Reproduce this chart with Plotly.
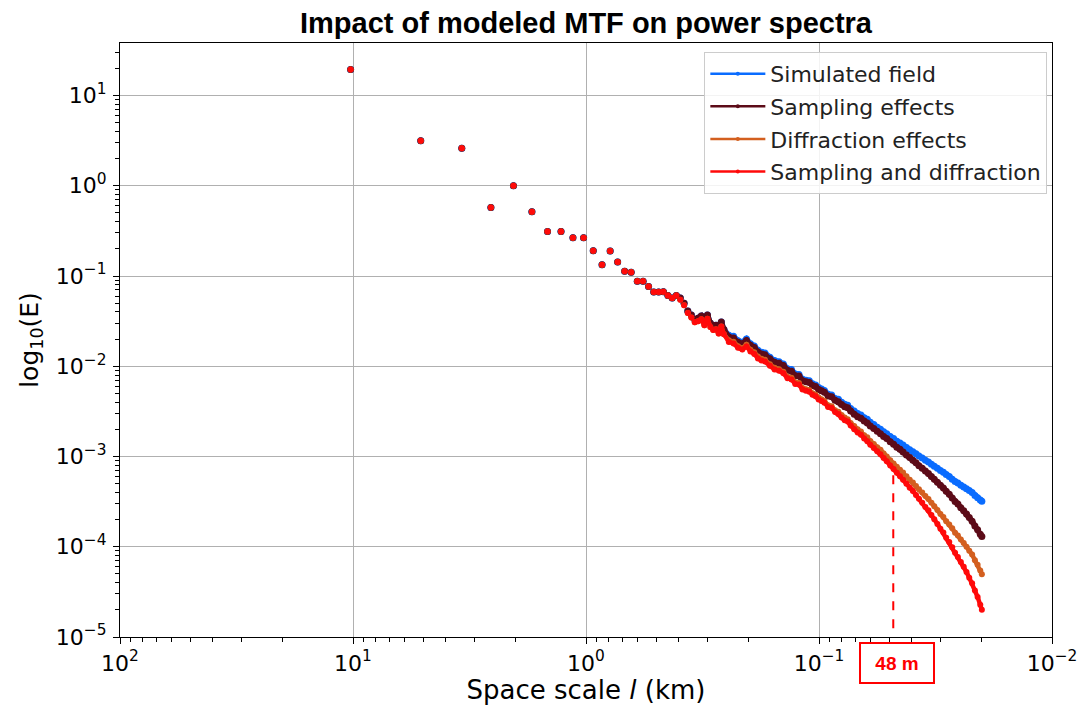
import math
import plotly.graph_objects as go

# ---------------- data ----------------
domain_km = 10.24  # first wavenumber -> 10.24 km scale
k_index = list(range(1, 41)) + [
    42, 44, 46, 48, 50, 52, 54, 56, 58, 60,
    63, 66, 69, 72, 75, 78, 81, 84, 87, 90, 93, 96, 99,
    102, 105, 108,
    112, 116, 120, 124, 128, 132, 136, 140,
    145, 150, 155, 160, 165, 170,
    176, 182, 188, 194, 200,
    207, 214, 221, 228, 235,
    243, 251, 259, 267, 275,
    284, 293, 302, 311, 320,
    330, 340, 350, 360,
    371, 382, 393, 404,
    416, 428, 440, 452,
    465, 478, 491, 504, 512]

# k = 1..25 : all four spectra coincide
low_k_energy = [19.4, 3.15, 2.6, 0.575, 1.0, 0.515, 0.312, 0.312, 0.265, 0.265,
                0.19, 0.133, 0.189, 0.143, 0.113, 0.11, 0.0877, 0.0877, 0.0766, 0.0663,
                0.0663, 0.067, 0.0608, 0.0569, 0.0608]

simulated_field = low_k_energy + [
    0.057, 0.050, 0.041, 0.037, 0.033, 0.034, 0.036, 0.031, 0.037, 0.030,
    0.028, 0.0285, 0.026, 0.031, 0.0255,
    0.022, 0.0215, 0.0192, 0.0185, 0.0201, 0.0178, 0.0168, 0.0150, 0.0143, 0.0140,
    0.0126, 0.0116, 0.0112, 0.0106, 0.0094, 0.0092, 0.0082, 0.0081, 0.0072, 0.0070, 0.0069, 0.0064, 0.0062,
    0.0058, 0.0056, 0.0054,
    0.0049, 0.0048, 0.0044, 0.0043, 0.0040, 0.0038, 0.0037, 0.0034,
    0.0032, 0.0030, 0.00288, 0.00268, 0.00258, 0.00240,
    0.00227, 0.00211, 0.00201, 0.00188, 0.00179,
    0.00167, 0.00158, 0.00148, 0.00141, 0.00134,
    0.00126, 0.00119, 0.00113, 0.00107, 0.00101,
    0.00096, 0.00091, 0.00087, 0.00082, 0.00078,
    0.00074, 0.00070, 0.00067, 0.00063,
    0.00060, 0.00056, 0.00053, 0.00051,
    0.00048, 0.00046, 0.00044, 0.00042,
    0.00040, 0.00037, 0.00035, 0.00033, 0.00032]

sampling_effects = low_k_energy + [
    0.057, 0.050, 0.041, 0.037, 0.033, 0.034, 0.036, 0.031, 0.037, 0.030,
    0.028, 0.0285, 0.026, 0.031, 0.0255,
    0.0211, 0.0206, 0.0184, 0.0178, 0.0193, 0.0171, 0.0161, 0.0144, 0.0137, 0.0134,
    0.0121, 0.0111, 0.0108, 0.0102, 0.00902, 0.00883, 0.00787, 0.00778, 0.00691, 0.00672, 0.00662, 0.00614, 0.00595,
    0.00554, 0.00535, 0.00516,
    0.00468, 0.00458, 0.0042, 0.00404, 0.00376, 0.00357, 0.00348, 0.0032,
    0.00294, 0.00276, 0.00265, 0.00247, 0.00235, 0.00218,
    0.00204, 0.0019, 0.00179, 0.00167, 0.00158,
    0.00146, 0.00137, 0.00127, 0.0012, 0.00112,
    0.00104, 0.000973, 0.000911, 0.000851, 0.000791,
    0.00074, 0.00069, 0.000648, 0.000599, 0.00056,
    0.000519, 0.00048, 0.000449, 0.000412,
    0.000382, 0.000346, 0.000318, 0.000297,
    0.00027, 0.00025, 0.00023, 0.000211,
    0.000192, 0.00017, 0.000154, 0.000138, 0.00013]

diffraction_effects = low_k_energy + [
    0.0547, 0.0475, 0.039, 0.0348, 0.0307, 0.0316, 0.0331, 0.0285, 0.0337, 0.0273,
    0.0252, 0.0257, 0.0231, 0.0276, 0.0227,
    0.0194, 0.0187, 0.0167, 0.0159, 0.0173, 0.0152, 0.0143, 0.0128, 0.0121, 0.0118,
    0.0105, 0.00963, 0.00924, 0.00869, 0.00766, 0.00745, 0.00664, 0.00652, 0.00576, 0.00557, 0.00545, 0.00502, 0.00484,
    0.0045, 0.00431, 0.00413,
    0.0037, 0.0036, 0.00326, 0.00314, 0.00288, 0.0027, 0.00259, 0.00235,
    0.00218, 0.002, 0.00189, 0.00172, 0.00163, 0.00149,
    0.00138, 0.00127, 0.00119, 0.00108, 0.001,
    0.00091, 0.000837, 0.00077, 0.000712, 0.000663,
    0.000605, 0.000553, 0.000514, 0.000471, 0.000434,
    0.000398, 0.000364, 0.000339, 0.000308, 0.000281,
    0.000255, 0.000231, 0.000214, 0.000192,
    0.000177, 0.00016, 0.000143, 0.000133,
    0.00012, 0.00011, 0.0001, 0.0000903,
    0.000082, 0.000071, 0.000063, 0.0000545, 0.0000496]

sampling_and_diffraction = low_k_energy + [
    0.0547, 0.0475, 0.039, 0.0348, 0.0307, 0.0316, 0.0331, 0.0285, 0.0337, 0.0273,
    0.0252, 0.0257, 0.0231, 0.0276, 0.0227,
    0.0186, 0.0179, 0.016, 0.0153, 0.0166, 0.0146, 0.0137, 0.0122, 0.0116, 0.0113,
    0.0101, 0.00921, 0.00891, 0.00836, 0.00735, 0.00715, 0.00637, 0.00626, 0.00553, 0.00534, 0.00523, 0.00482, 0.00464,
    0.00429, 0.00412, 0.00395,
    0.00353, 0.00344, 0.00311, 0.00295, 0.00271, 0.00253, 0.00244, 0.00221,
    0.002, 0.00184, 0.00174, 0.00158, 0.00148, 0.00135,
    0.00124, 0.00114, 0.00106, 0.00096, 0.000885,
    0.000796, 0.000726, 0.00066, 0.000606, 0.000554,
    0.000499, 0.000452, 0.000415, 0.000374, 0.00034,
    0.000307, 0.000276, 0.000253, 0.000225, 0.000202,
    0.000179, 0.000158, 0.000144, 0.000126,
    0.000113, 0.0000986, 0.0000859, 0.0000772,
    0.0000676, 0.00006, 0.0000525, 0.0000454,
    0.0000394, 0.0000327, 0.0000277, 0.0000228, 0.0000201]

series_names = ["Simulated field", "Sampling effects", "Diffraction effects", "Sampling and diffraction"]
series_values = [simulated_field, sampling_effects, diffraction_effects, sampling_and_diffraction]
series_colors = ["#0a6cff", "#5c0b18", "#d35f1f", "#ff0a0a"]
marker_sizes = [7, 7, 6, 6]
dense_from_k = 30  # from here the markers merge into a continuous band

cutoff_scale_km = 0.048
cutoff_energy = 6.2e-4
cutoff_label = "48 m"

x_tick_vals = [100, 10, 1, 0.1, 0.01]
x_tick_text = ["10<sup>2</sup>", "10<sup>1</sup>", "10<sup>0</sup>", "10<sup>\u22121</sup>", "10<sup>\u22122</sup>"]
y_tick_vals = [10, 1, 0.1, 0.01, 0.001, 0.0001, 0.00001]
y_tick_text = ["10<sup>1</sup>", "10<sup>0</sup>", "10<sup>\u22121</sup>", "10<sup>\u22122</sup>",
               "10<sup>\u22123</sup>", "10<sup>\u22124</sup>", "10<sup>\u22125</sup>"]

for s in series_values:
    assert len(s) == len(k_index), (len(s), len(k_index))

scale_km = [domain_km / k for k in k_index]
dense_start = k_index.index(dense_from_k)

# ---------------- figure ----------------
fig = go.Figure()
for name, vals, col, ms in zip(series_names, series_values, series_colors, marker_sizes):
    fig.add_trace(go.Scatter(x=scale_km[dense_start:], y=vals[dense_start:], mode="lines",
                             line=dict(color=col, width=ms - 1.5), showlegend=False, hoverinfo="skip"))
    fig.add_trace(go.Scatter(x=scale_km, y=vals, mode="markers", name=name,
                             marker=dict(color=col, size=ms, line=dict(width=0)),
                             showlegend=False, hoverinfo="x+y"))

# cut-off (48 m) marker line
fig.add_trace(go.Scatter(x=[cutoff_scale_km, cutoff_scale_km], y=[cutoff_energy, 1e-5], mode="lines",
                         line=dict(color="#ff0000", width=2, dash="dash"), showlegend=False, hoverinfo="skip"))

for i, (name, col) in enumerate(zip(series_names, series_colors)):
    fig.add_trace(go.Scatter(x=[None], y=[None], mode="lines+markers", name=name,
                             line=dict(color=col, width=2.5), marker=dict(color=col, size=4),
                             legendgroup="g%d" % i, showlegend=True))

def minor_vals(lo, hi):
    out = []
    for e in range(lo, hi):
        for m in range(2, 10):
            out.append(m * 10 ** e)
    return out

y_lo, y_hi = -5, 1.582
axis_font = dict(family="DejaVu Sans", size=22, color="#000000")

fig.update_xaxes(type="log", range=[2, -2], tickmode="array", tickvals=x_tick_vals, ticktext=x_tick_text,
                 showline=True, linecolor="black", linewidth=1.2, mirror=True,
                 ticks="outside", ticklen=6, tickwidth=1.2, tickcolor="black",
                 showgrid=True, gridcolor="#b0b0b0", gridwidth=1, zeroline=False,
                 tickfont=axis_font,
                 minor=dict(tickmode="array", tickvals=minor_vals(-2, 2), ticks="outside",
                            ticklen=3.5, tickwidth=1, tickcolor="black", showgrid=False),
                 title=dict(text="Space scale <i>l</i> (km)", font=dict(family="DejaVu Sans", size=26, color="#000"),
                            standoff=0))
fig.update_yaxes(type="log", range=[y_lo, y_hi], tickmode="array", tickvals=y_tick_vals, ticktext=y_tick_text,
                 showline=True, linecolor="black", linewidth=1.2, mirror=True,
                 ticks="outside", ticklen=6, tickwidth=1.2, tickcolor="black",
                 showgrid=True, gridcolor="#b0b0b0", gridwidth=1, zeroline=False,
                 tickfont=axis_font, ticklabelstandoff=2,
                 minor=dict(tickmode="array", tickvals=minor_vals(-5, 2), ticks="outside",
                            ticklen=3.5, tickwidth=1, tickcolor="black", showgrid=False),
                 title=dict(text="log<sub>10</sub>(E)", font=dict(family="DejaVu Sans", size=25, color="#000"),
                            standoff=10))

cut_x = math.log10(cutoff_scale_km)
fig.add_annotation(xref="x", yref="paper", x=cut_x, y=-0.009, xanchor="center", yanchor="top", xshift=4,
                   text="<b>%s</b>" % cutoff_label, showarrow=False,
                   font=dict(family="Liberation Sans, Arial", size=19, color="#ff0000"),
                   bordercolor="#ff0000", borderwidth=2, borderpad=2, width=68, height=34,
                   bgcolor="white")

# page body adds an 8px offset: figure is 8px smaller so the page layout matches 1089x715
fig.update_layout(
    width=1081, height=707,
    margin=dict(l=112, r=29, t=35, b=78),
    paper_bgcolor="white", plot_bgcolor="white",
    title=dict(text="<b>Impact of modeled MTF on power spectra</b>", x=0.5, xref="paper",
               y=1 - 15 / 707, yref="container", yanchor="middle", xanchor="center",
               font=dict(family="Liberation Sans, Arial", size=29, color="#000")),
    legend=dict(x=0.995, y=0.985, xanchor="right", yanchor="top",
                bgcolor="rgba(255,255,255,0.85)", bordercolor="#cccccc", borderwidth=1,
                font=dict(family="DejaVu Sans", size=22, color="#222"),
                tracegroupgap=1, itemwidth=55),
    showlegend=True,
)

fig.write_html("out.html")
